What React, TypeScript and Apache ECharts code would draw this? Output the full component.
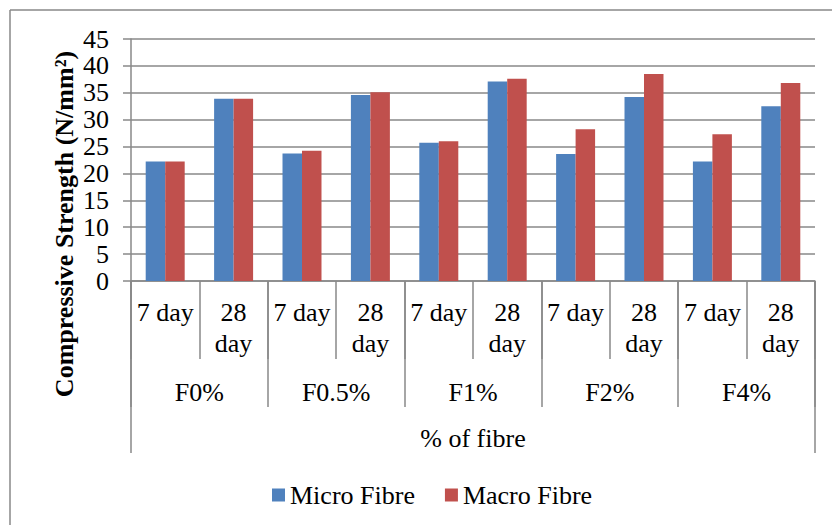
import React, { useEffect, useRef } from "react";
import * as echarts from "echarts";

const dayLabels = ["7 day", "28\nday", "7 day", "28\nday", "7 day", "28\nday", "7 day", "28\nday", "7 day", "28\nday"];
const groupLabels = ["F0%", "F0.5%", "F1%", "F2%", "F4%"];
const outerLabel = ["% of fibre"];
const microFibre = [22.2, 33.9, 23.7, 34.6, 25.7, 37.1, 23.6, 34.2, 22.2, 32.5];
const macroFibre = [22.2, 33.9, 24.2, 35.1, 26.0, 37.6, 28.2, 38.5, 27.3, 36.8];
const yTicks = { min: 0, max: 45, interval: 5 };
const yName = "Compressive Strength (N/mm²)";

const FONT = "Liberation Serif";
const GRAY = "#898989";

export default function App() {
  const ref = useRef<HTMLDivElement>(null);
  useEffect(() => {
    if (!ref.current) return;
    const chart = echarts.init(ref.current, undefined, { renderer: "svg" });
    const baseLabel = { fontFamily: FONT, fontSize: 26, color: "#000", lineHeight: 31, interval: 0, hideOverlap: false };
    chart.setOption({
      animation: false,
      backgroundColor: "#fff",
      textStyle: { fontFamily: FONT },
      grid: { left: 131, right: 17, top: 39, bottom: 244, containLabel: false, outerBoundsMode: "none" },
      legend: {
        left: 267,
        top: 477,
        itemWidth: 13,
        itemHeight: 13,
        itemGap: 30,
        icon: "rect",
        textStyle: { fontFamily: FONT, fontSize: 26, color: "#000" },
        data: ["Micro Fibre", "Macro Fibre"],
      },
      xAxis: [
        {
          type: "category",
          data: dayLabels,
          position: "bottom",
          axisLine: { show: true, lineStyle: { color: GRAY, width: 1.5 } },
          axisTick: { show: true, length: 78, lineStyle: { color: GRAY, width: 1.5 } },
          axisLabel: { ...baseLabel, margin: 16 },
        },
        {
          type: "category",
          data: groupLabels,
          position: "bottom",
          axisLine: { show: false },
          axisTick: { show: true, length: 126, lineStyle: { color: GRAY, width: 1.5 } },
          axisLabel: { ...baseLabel, margin: 96 },
        },
        {
          type: "category",
          data: outerLabel,
          position: "bottom",
          axisLine: { show: false },
          axisTick: { show: true, length: 172, lineStyle: { color: GRAY, width: 1.5 } },
          axisLabel: { ...baseLabel, margin: 142 },
        },
      ],
      yAxis: {
        type: "value",
        min: yTicks.min,
        max: yTicks.max,
        interval: yTicks.interval,
        axisLine: { show: true, lineStyle: { color: GRAY, width: 1.5 } },
        axisTick: { show: true, length: 8, lineStyle: { color: GRAY, width: 1.5 } },
        axisLabel: { fontFamily: FONT, fontSize: 26, color: "#000", margin: 22, showMinLabel: true, showMaxLabel: true, hideOverlap: false },
        splitLine: { show: true, lineStyle: { color: GRAY, width: 1.5 } },
      },
      series: [
        { name: "Micro Fibre", type: "bar", data: microFibre, barGap: "0%", barCategoryGap: "43%", itemStyle: { color: "#4F81BD" } },
        { name: "Macro Fibre", type: "bar", data: macroFibre, barGap: "0%", barCategoryGap: "43%", itemStyle: { color: "#C0504D" } },
      ],
      graphic: [
        { type: "line", shape: { x1: 10, y1: 10, x2: 832, y2: 10 }, style: { stroke: GRAY, lineWidth: 1.5 } },
        { type: "line", shape: { x1: 10, y1: 10, x2: 10, y2: 525 }, style: { stroke: GRAY, lineWidth: 1.5 } },
        {
          type: "text",
          x: 64,
          y: 224,
          rotation: Math.PI / 2,
          style: {
            text: yName,
            fontFamily: FONT,
            fontSize: 26,
            fontWeight: "bold",
            fill: "#000",
            align: "center",
            verticalAlign: "middle",
          },
        },
      ],
    });
    return () => chart.dispose();
  }, []);
  return <div ref={ref} style={{ width: 832, height: 525, position: "absolute", left: 0, top: 0 }} />;
}
